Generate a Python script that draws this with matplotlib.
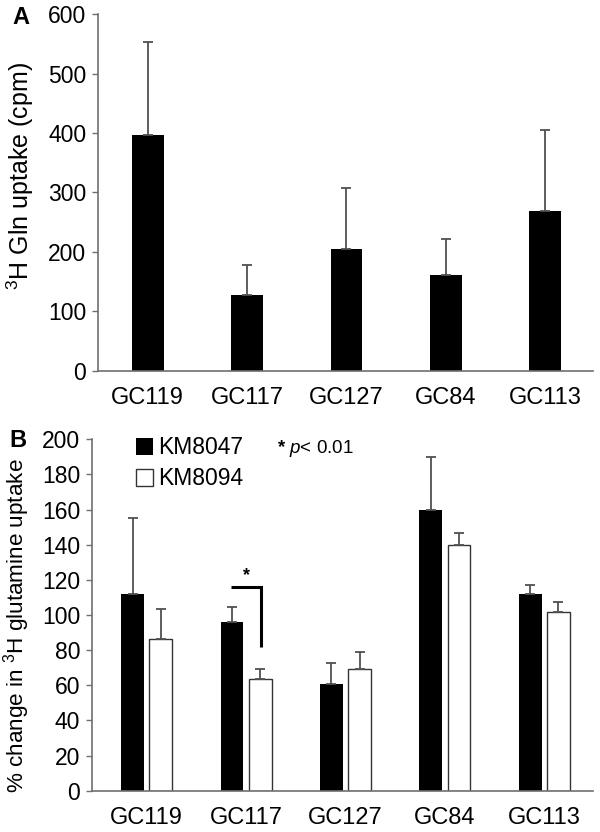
import matplotlib
matplotlib.use("Agg")
import matplotlib.pyplot as plt
import numpy as np

plt.rcParams['font.family'] = ['Liberation Sans', 'DejaVu Sans']
plt.rcParams['mathtext.fontset'] = 'custom'
plt.rcParams['mathtext.rm'] = 'Liberation Sans'
plt.rcParams['mathtext.it'] = 'Liberation Sans:italic'
plt.rcParams['mathtext.bf'] = 'Liberation Sans:bold'

categories = ["GC119", "GC117", "GC127", "GC84", "GC113"]

# Panel A
gln_uptake = [396, 128, 204, 161, 268]
gln_err = [158, 50, 104, 61, 138]

# Panel B
km8047 = [112, 96, 61, 160, 112]
km8047_err = [43, 8.5, 11.5, 30, 5]
km8094 = [86.5, 63.5, 69, 140, 101.5]
km8094_err = [17, 6, 10, 6.5, 6]

fig = plt.figure(figsize=(6.0, 8.32), dpi=100)
axA = fig.add_axes([0.1633, 0.5545, 0.825, 0.4283])
axB = fig.add_axes([0.1533, 0.0496, 0.835, 0.4224])

spine_col = '#707070'
err_kw = dict(ecolor='#505050', elinewidth=1.3, capsize=3.5, capthick=1.3)
fs_tick = 16.5

x = np.arange(len(categories))

# Panel A
axA.bar(x, gln_uptake, width=0.32, color='black',
        yerr=[np.zeros(len(x)), gln_err], error_kw=err_kw)
axA.set_xlim(-0.5, 4.48)
axA.set_ylim(0, 600)
axA.set_yticks(range(0, 601, 100))
axA.set_xticks(x)
axA.set_xticklabels(categories)
axA.set_ylabel('$\\mathregular{^{3}}$H Gln uptake (cpm)', fontsize=18)
axA.yaxis.set_label_coords(-0.126, 0.547)

# Panel B
w = 0.23
off = 0.142
axB.bar(x - off, km8047, width=w, color='black',
        yerr=[np.zeros(len(x)), km8047_err], error_kw=err_kw, label='KM8047')
axB.bar(x + off, km8094, width=w, color='white', edgecolor='#333333', linewidth=1.0,
        yerr=[np.zeros(len(x)), km8094_err], error_kw=err_kw, label='KM8094')
axB.set_xlim(-0.55, 4.49)
axB.set_ylim(0, 200)
axB.set_yticks(range(0, 201, 20))
axB.set_xticks(x)
axB.set_xticklabels(categories)
axB.set_ylabel('% change in $\\mathregular{^{3}}$H glutamine uptake', fontsize=16.2)
axB.yaxis.set_label_coords(-0.12, 0.47)

# significance bracket
axB.plot([0.85, 1.15, 1.15], [116, 116, 82], color='black', lw=2.2,
         solid_capstyle='butt', solid_joinstyle='miter')
axB.text(1.0, 117.5, '*', ha='center', va='bottom', fontsize=13, fontweight='bold')
axB.text(1.31, 195, '$\\mathbf{*}$ $\\mathit{p}$< 0.01', ha='left', va='center', fontsize=13.5)

leg = axB.legend(loc='upper left', bbox_to_anchor=(0.07, 1.035), frameon=False,
                 fontsize=16.5, handlelength=0.75, handleheight=0.75,
                 handletextpad=0.2, labelspacing=0.35, borderaxespad=0)

for ax in (axA, axB):
    for s in ('top', 'right'):
        ax.spines[s].set_visible(False)
    for s in ('left', 'bottom'):
        ax.spines[s].set_color(spine_col)
        ax.spines[s].set_linewidth(1.2)
    ax.tick_params(axis='y', direction='out', length=4.5, width=1.0, color=spine_col,
                   labelsize=fs_tick, pad=4)
    ax.tick_params(axis='x', length=0, labelsize=17, pad=12)

fig.text(0.02, 0.993, 'A', fontsize=17, fontweight='bold', va='top', ha='left')
fig.text(0.016, 0.484, 'B', fontsize=17, fontweight='bold', va='top', ha='left')

fig.savefig('out.png', dpi=100)
